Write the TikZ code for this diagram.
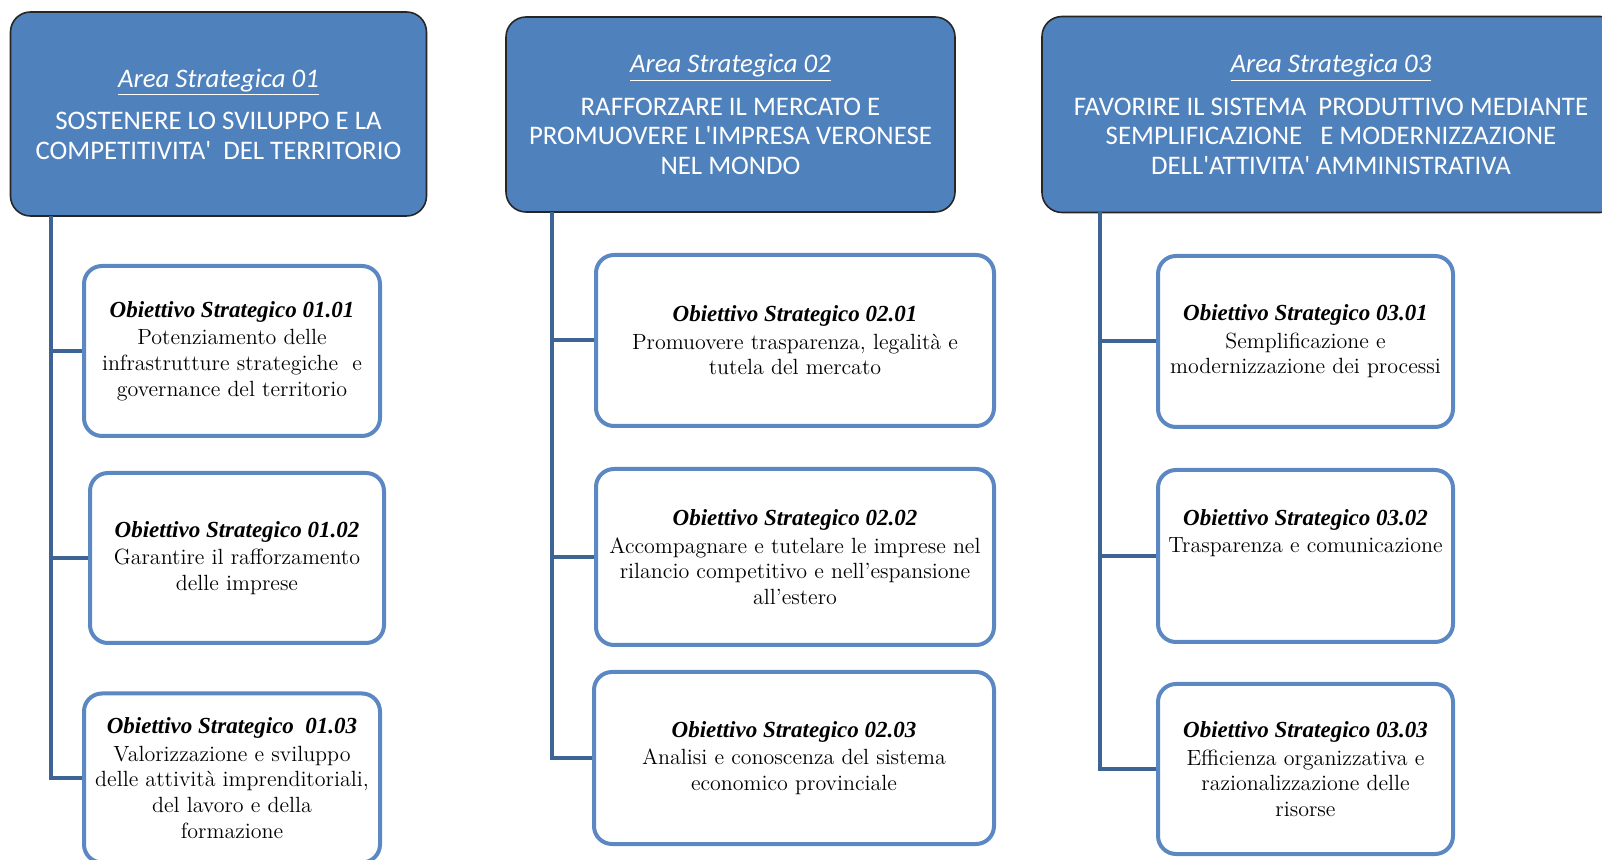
\documentclass[tikz,border=0pt]{standalone}
\usepackage{fontspec}
\newfontfamily\hdfont{Carlito}
\newfontfamily\obfont{Liberation Serif}
\usepackage{tikz}

\definecolor{areablue}{HTML}{4F81BD}
\definecolor{trunkblue}{HTML}{3E6496}
\definecolor{obborder}{HTML}{5B88C2}

\tikzset{
  areabox/.style={draw=black!85, line width=0.8pt, fill=areablue, rounded corners=10pt,
    text=white, align=center, font=\hdfont\fontsize{13.4}{14.8}\selectfont, inner sep=2pt},
  obbox/.style={draw=obborder, line width=2pt, fill=white, rounded corners=9pt,
    align=center, font=\fontsize{11}{12.8}\selectfont, inner sep=2pt},
  trunk/.style={draw=trunkblue, line width=2pt},
}
\newcommand{\areatitle}[1]{\textit{\underline{#1}}\\[6.5pt]}
\newcommand{\obtitle}[1]{{\obfont\fontsize{11.5}{12.8}\selectfont\textbf{\textit{#1}}}\\[1pt]}

\begin{document}
\begin{tikzpicture}[x=0.5pt, y=-0.5pt] % 1 unita' = 1 pixel
  \useasboundingbox (0,0) rectangle (1602,860); % margini
  % aree strategiche
  \node[areabox, minimum width=208pt, minimum height=102pt] (a1) at (218.5,114)
    {\areatitle{Area Strategica 01}SOSTENERE LO SVILUPPO E LA\\COMPETITIVITA'\ \ DEL TERRITORIO};
  \node[areabox, minimum width=224.5pt, minimum height=97.5pt] (a2) at (730.5,114.5)
    {\areatitle{Area Strategica 02}RAFFORZARE IL MERCATO E\\PROMUOVERE L'IMPRESA VERONESE\\NEL MONDO};
  \node[areabox, minimum width=289pt, minimum height=98pt] (a3) at (1331,114.5)
    {\areatitle{Area Strategica 03}FAVORIRE IL SISTEMA\ \ PRODUTTIVO MEDIANTE\\SEMPLIFICAZIONE\ \ \ E MODERNIZZAZIONE\\DELL'ATTIVITA' AMMINISTRATIVA};
  % obiettivi area 01
  \node[obbox, minimum width=148pt, minimum height=85pt] (o11) at (232,351)
    {\obtitle{Obiettivo Strategico 01.01}Potenziamento delle\\infrastrutture strategiche\ \ e\\governance del territorio};
  \node[obbox, minimum width=147pt, minimum height=85pt] (o12) at (237,558)
    {\obtitle{Obiettivo Strategico 01.02}Garantire il rafforzamento\\delle imprese};
  \node[obbox, minimum width=148pt, minimum height=84.5pt] (o13) at (232,778)
    {\obtitle{Obiettivo Strategico\ \ 01.03}Valorizzazione e sviluppo\\delle attività imprenditoriali,\\del lavoro e della\\formazione};
  % obiettivi area 02
  \node[obbox, minimum width=199pt, minimum height=85.5pt] (o21) at (795,340.5)
    {\obtitle{Obiettivo Strategico 02.01}Promuovere trasparenza, legalità e\\tutela del mercato};
  \node[obbox, minimum width=199pt, minimum height=88pt] (o22) at (795,557)
    {\obtitle{Obiettivo Strategico 02.02}Accompagnare e tutelare le imprese nel\\rilancio competitivo e nell'espansione\\all'estero};
  \node[obbox, minimum width=200pt, minimum height=86pt] (o23) at (794,758)
    {\obtitle{Obiettivo Strategico 02.03}Analisi e conoscenza del sistema\\economico provinciale};
  % obiettivi area 03
  \node[obbox, minimum width=147.5pt, minimum height=85.5pt] (o31) at (1305.5,341.5)
    {\obtitle{Obiettivo Strategico 03.01}Semplificazione e\\modernizzazione dei processi};
  \node[obbox, minimum width=147.5pt, minimum height=86pt] (o32) at (1305.5,556)
    {\obtitle{Obiettivo Strategico 03.02}Trasparenza e comunicazione\\[12pt]};
  \node[obbox, minimum width=147.5pt, minimum height=85pt] (o33) at (1305.5,769)
    {\obtitle{Obiettivo Strategico 03.03}Efficienza organizzativa e\\razionalizzazione delle\\risorse};
  % tronchi
  \coordinate (t1) at (51,216);
  \coordinate (t2) at (552,212);
  \coordinate (t3) at (1100,212);
  \foreach \a in {1,2,3}{
    \foreach \o in {1,2,3}
      \draw[trunk] (t\a) |- (o\a\o.west);
  }
\end{tikzpicture}
\end{document}
